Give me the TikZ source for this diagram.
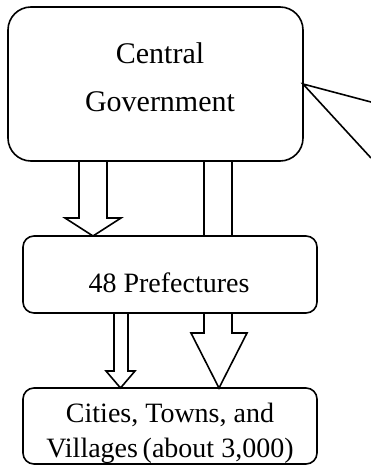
\documentclass[tikz,border=0pt]{standalone}
\usepackage{fontspec}
\setmainfont{Liberation Serif}
\usetikzlibrary{calc}
\tikzset{
  box/.style={rectangle, draw=black, fill=white, line width=1.6pt, outer sep=0pt,
              rounded corners=11pt, minimum width=294pt, minimum height=77pt},
  boxbig/.style={box, rounded corners=23pt, minimum width=295pt, minimum height=154pt},
  lbl/.style={align=center, inner sep=0pt, font=\fontsize{28}{35}\selectfont},
  fatarrow/.style={draw=black, fill=white, line width=1.6pt, line join=miter},
  callout/.style={draw=black, line width=1.6pt},
}
% from, to, shaft left, shaft right, head left, head right, head length
\newcommand{\blockarrow}[7]{%
  \draw[fatarrow] (#3,0 |- #1.south) -- ([yshift=#7pt]#3,0 |- #2.north)
    -- ([yshift=#7pt]#5,0 |- #2.north) -- ({(#5+#6)/2},0 |- #2.north)
    -- ([yshift=#7pt]#6,0 |- #2.north) -- ([yshift=#7pt]#4,0 |- #2.north)
    -- (#4,0 |- #1.south) -- cycle;}

\begin{document}
\begin{tikzpicture}[x=1pt, y=-1pt]
  \useasboundingbox (0,0) rectangle (371,466);

  % three levels
  \node[boxbig] (gov) at (155.5,84) {};
  \node[box, minimum height=76pt] (city) at (170,426) {};

  % long arrow runs behind the prefecture box
  \blockarrow{gov}{city}{204}{232}{191}{247}{55}
  \node[box] (pref) at (170,274.5) {};
  \blockarrow{gov}{pref}{79}{107}{65}{121}{18}
  \blockarrow{pref}{city}{114}{128}{106}{135}{17}

  % texts
  \node[lbl, font=\fontsize{30}{48}\selectfont] (govtext) at (160,77) {Central\\Government};
  \node[lbl] (preftext) at (169,283) {48 Prefectures};
  \node[lbl] (citytext) at (170,433) {Cities, Towns, and\\Villages\,(about 3,000)};

  % callout lines leaving the picture
  \coordinate (c1) at (371,102);
  \coordinate (c2) at (371,158);
  \draw[callout] (c1) -- (gov.east) -- (c2);
\end{tikzpicture}
\end{document}
